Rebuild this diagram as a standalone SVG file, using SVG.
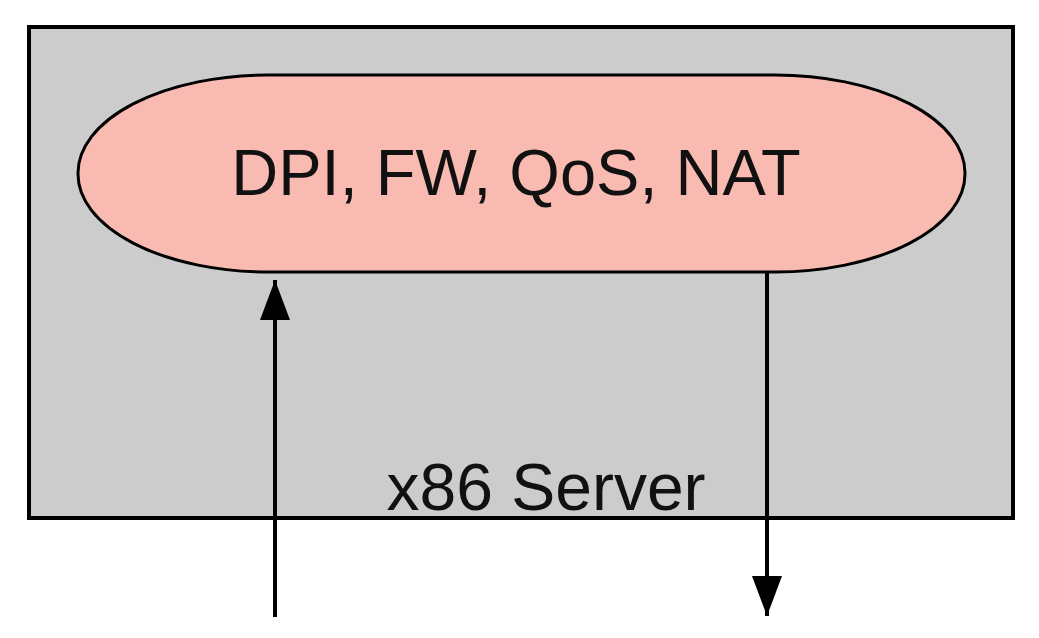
<svg xmlns="http://www.w3.org/2000/svg" width="1039" height="638" viewBox="0 0 1039 638">
<style>
text{font-family:"Liberation Sans",Arial,sans-serif;fill:#111}
.c{stroke:#000;stroke-width:4;fill:none}
</style>
<defs>
<marker id="h" viewBox="0 0 40 30" refX="40" refY="15" markerWidth="40" markerHeight="30" markerUnits="userSpaceOnUse" orient="auto"><path d="M0,0L40,15L0,30z" fill="#000"/></marker></defs>
<rect width="1039" height="638" fill="#fff"/>
<g id="server"><rect x="29" y="27" width="984" height="491" fill="#cccccc" stroke="#000" stroke-width="4"/>
<text x="546" y="510" font-size="66" text-anchor="middle">x86 Server</text></g>
<g id="func"><rect x="78" y="75" width="887" height="197" rx="190" ry="98" fill="#f9bab1" stroke="#000" stroke-width="3"/>
<text x="516" y="195" font-size="65" text-anchor="middle">DPI, FW, QoS, NAT</text></g>
<g id="connectors">
<line class="c" x1="275" y1="617" x2="275" y2="280" marker-end="url(#h)"/>
<line class="c" x1="767" y1="273" x2="767" y2="616" marker-end="url(#h)"/>
</g>
</svg>
